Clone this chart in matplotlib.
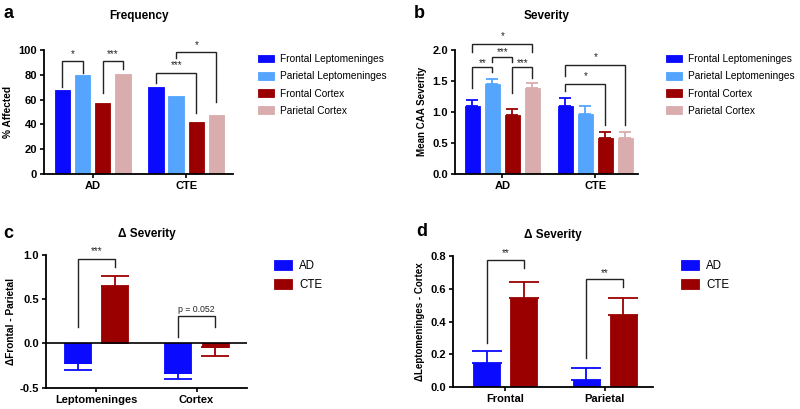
import numpy as np
import matplotlib
matplotlib.use('Agg')
import matplotlib.pyplot as plt

plt.rcParams['font.family'] = ['Liberation Sans', 'DejaVu Sans']

# colours used in all panels
c_blue = '#0a0aff'
c_lblue = '#55a5ff'
c_red = '#9b0000'
c_pink = '#d9adad'

# ---- data ----
groups_ab = ['AD', 'CTE']
regions = ['Frontal Leptomeninges', 'Parietal Leptomeninges', 'Frontal Cortex', 'Parietal Cortex']

# a: % affected, rows = region, cols = AD, CTE
freq_fl = [67.5, 70.0]
freq_pl = [80.0, 62.6]
freq_fc = [57.5, 41.7]
freq_pc = [80.4, 47.6]

# b: mean CAA severity and SEM
sev_fl = [1.10, 1.10]
sev_pl = [1.45, 0.96]
sev_fc = [0.95, 0.575]
sev_pc = [1.39, 0.575]
sem_fl = [0.085, 0.12]
sem_pl = [0.085, 0.13]
sem_fc = [0.09, 0.10]
sem_pc = [0.07, 0.10]

# c: delta frontal - parietal
groups_c = ['Leptomeninges', 'Cortex']
dfp_ad = [-0.22, -0.33]
dfp_cte = [0.645, -0.035]
dfp_ad_sem = [0.085, 0.07]
dfp_cte_sem = [0.115, 0.105]

# d: delta leptomeninges - cortex
groups_d = ['Frontal', 'Parietal']
dlc_ad = [0.145, 0.043]
dlc_cte = [0.545, 0.438]
dlc_ad_sem = [0.073, 0.073]
dlc_cte_sem = [0.096, 0.105]

fig = plt.figure(figsize=(8, 4.09), dpi=100)


def px(l, t, r, b):
    return [l / 800, 1 - b / 409, (r - l) / 800, (b - t) / 409]


def style(ax):
    for s in ['top', 'right']:
        ax.spines[s].set_visible(False)
    for s in ['left', 'bottom']:
        ax.spines[s].set_linewidth(1.3)
    ax.tick_params(axis='both', labelsize=8, width=1.2, length=3, pad=2)
    for lab in ax.get_xticklabels() + ax.get_yticklabels():
        lab.set_fontweight('bold')


def bracket(ax, x1, x2, top, y1, y2, label, fs=7, dy=0.0):
    ax.plot([x1, x1, x2, x2], [y1, top, top, y2], color='#222222', lw=1.0,
            clip_on=False, solid_joinstyle='miter')
    ax.text((x1 + x2) / 2, top + dy, label, ha='center', va='bottom',
            fontsize=fs, color='#222222', clip_on=False)


four_cols = [c_blue, c_lblue, c_red, c_pink]
pitch4 = 0.215
w4 = 0.165
off4 = (np.arange(4) - 1.5) * pitch4
xg = np.arange(2)

# ---------------- a ----------------
axa = fig.add_axes(px(44, 50, 233, 174))
for k, vals in enumerate([freq_fl, freq_pl, freq_fc, freq_pc]):
    axa.bar(xg + off4[k], vals, w4, color=four_cols[k], edgecolor=four_cols[k],
            linewidth=0.6, label=regions[k])
axa.set_xlim(-0.52, 1.50)
axa.set_ylim(0, 100)
axa.set_yticks([0, 20, 40, 60, 80, 100])
axa.set_xticks(xg)
axa.set_xticklabels(groups_ab)
axa.set_ylabel('% Affected', fontsize=7.3, fontweight='bold', labelpad=4)
axa.set_title('Frequency', fontsize=8.5, fontweight='bold', pad=22)
style(axa)
bracket(axa, off4[0], off4[1], 91, 70, 81.7, '*', dy=2)
bracket(axa, off4[2], off4[3], 91, 65, 85, '***', dy=2)
bracket(axa, 1 + off4[0], 1 + off4[2], 81.7, 73.6, 49, '***', dy=2)
bracket(axa, 1 + off4[1], 1 + off4[3], 98, 93.5, 57.8, '*', dy=2)
axa.legend(loc='upper left', bbox_to_anchor=(258 / 800, 1 - 54 / 409),
           bbox_transform=fig.transFigure, frameon=False, fontsize=7.3,
           handlelength=1.6, handleheight=0.82, handletextpad=0.6,
           labelspacing=0.72, borderpad=0, borderaxespad=0)

# ---------------- b ----------------
axb = fig.add_axes(px(455, 50, 638, 173.7))
for k, (vals, err) in enumerate(zip([sev_fl, sev_pl, sev_fc, sev_pc],
                                    [sem_fl, sem_pl, sem_fc, sem_pc])):
    axb.bar(xg + off4[k], vals, w4, color=four_cols[k], edgecolor=four_cols[k],
            linewidth=0.6, label=regions[k])
    axb.errorbar(xg + off4[k], vals, yerr=[np.zeros(2), err], fmt='none',
                 ecolor=four_cols[k], elinewidth=1.3, capsize=4.5, capthick=1.3)
axb.set_xlim(-0.51, 1.46)
axb.set_ylim(0, 2.0)
axb.set_yticks([0, 0.5, 1.0, 1.5, 2.0])
axb.set_yticklabels(['0.0', '0.5', '1.0', '1.5', '2.0'])
axb.set_xticks(xg)
axb.set_xticklabels(groups_ab)
axb.set_ylabel('Mean CAA Severity', fontsize=7, fontweight='bold', labelpad=4)
axb.set_title('Severity', fontsize=8.5, fontweight='bold', pad=22)
style(axb)
bracket(axb, off4[0], off4[3], 2.10, 1.96, 1.96, '*', dy=0.05)
bracket(axb, off4[0], off4[1], 1.73, 1.39, 1.65, '**', dy=-0.02)
bracket(axb, off4[1], off4[2], 1.89, 1.81, 1.81, '***', dy=0.0)
bracket(axb, off4[2], off4[3], 1.73, 1.31, 1.54, '***', dy=-0.02)
bracket(axb, 1 + off4[0], 1 + off4[3], 1.75, 1.585, 0.79, '*', dy=0.05)
bracket(axb, 1 + off4[0], 1 + off4[2], 1.45, 1.34, 0.79, '*', dy=0.05)
axb.legend(loc='upper left', bbox_to_anchor=(666 / 800, 1 - 54 / 409),
           bbox_transform=fig.transFigure, frameon=False, fontsize=7.3,
           handlelength=1.6, handleheight=0.82, handletextpad=0.6,
           labelspacing=0.72, borderpad=0, borderaxespad=0)

pitch2 = 0.372
w2 = 0.27
off2 = np.array([-0.5, 0.5]) * pitch2

# ---------------- c ----------------
axc = fig.add_axes(px(46, 255, 246.7, 387.7))
axc.bar(xg + off2[0], dfp_ad, w2, color=c_blue, edgecolor=c_blue, linewidth=0.6, label='AD')
axc.bar(xg + off2[1], dfp_cte, w2, color=c_red, edgecolor=c_red, linewidth=0.6, label='CTE')
for vals, err, col, xo in [(dfp_ad, dfp_ad_sem, c_blue, off2[0]),
                           (dfp_cte, dfp_cte_sem, c_red, off2[1])]:
    vals = np.array(vals)
    err = np.array(err)
    lo = np.where(vals < 0, err, 0)
    hi = np.where(vals >= 0, err, 0)
    axc.errorbar(xg + xo, vals, yerr=[lo, hi], fmt='none', ecolor=col,
                 elinewidth=1.3, capsize=10, capthick=1.3)
axc.axhline(0, color='black', lw=1.2)
axc.set_xlim(-0.5, 1.5)
axc.set_ylim(-0.5, 1.0)
axc.set_yticks([-0.5, 0.0, 0.5, 1.0])
axc.set_yticklabels(['-0.5', '0.0', '0.5', '1.0'])
axc.set_xticks(xg)
axc.set_xticklabels(groups_c)
axc.set_ylabel('ΔFrontal - Parietal', fontsize=7.3, fontweight='bold', labelpad=3)
axc.set_title('Δ Severity', fontsize=8.5, fontweight='bold', pad=13)
style(axc)
bracket(axc, off2[0], off2[1], 0.955, 0.185, 0.86, '***', dy=0.03)
bracket(axc, 1 + off2[0], 1 + off2[1], 0.305, 0.068, 0.185, 'p = 0.052', fs=6.3, dy=0.03)
axc.legend(loc='upper left', bbox_to_anchor=(274 / 800, 1 - 260 / 409),
           bbox_transform=fig.transFigure, frameon=False, fontsize=8.3,
           handlelength=1.6, handleheight=0.9, handletextpad=0.6,
           labelspacing=0.6, borderpad=0, borderaxespad=0)

# ---------------- d ----------------
axd = fig.add_axes(px(453, 256, 653.3, 387))
axd.bar(xg + off2[0], dlc_ad, w2, color=c_blue, edgecolor=c_blue, linewidth=0.6, label='AD')
axd.bar(xg + off2[1], dlc_cte, w2, color=c_red, edgecolor=c_red, linewidth=0.6, label='CTE')
axd.errorbar(xg + off2[0], dlc_ad, yerr=[np.zeros(2), dlc_ad_sem], fmt='none',
             ecolor=c_blue, elinewidth=1.3, capsize=11, capthick=1.3)
axd.errorbar(xg + off2[1], dlc_cte, yerr=[np.zeros(2), dlc_cte_sem], fmt='none',
             ecolor=c_red, elinewidth=1.3, capsize=11, capthick=1.3)
axd.set_xlim(-0.527, 1.49)
axd.set_ylim(0, 0.8)
axd.set_yticks([0, 0.2, 0.4, 0.6, 0.8])
axd.set_yticklabels(['0.0', '0.2', '0.4', '0.6', '0.8'])
axd.set_xticks(xg)
axd.set_xticklabels(groups_d)
axd.set_ylabel('ΔLeptomeninges - Cortex', fontsize=7, fontweight='bold', labelpad=4)
axd.set_title('Δ Severity', fontsize=8.5, fontweight='bold', pad=13)
style(axd)
bracket(axd, off2[0], off2[1], 0.776, 0.267, 0.725, '**', dy=0.01)
bracket(axd, 1 + off2[0], 1 + off2[1], 0.658, 0.175, 0.612, '**', dy=0.01)
axd.legend(loc='upper left', bbox_to_anchor=(681 / 800, 1 - 260 / 409),
           bbox_transform=fig.transFigure, frameon=False, fontsize=8.3,
           handlelength=1.6, handleheight=0.9, handletextpad=0.6,
           labelspacing=0.6, borderpad=0, borderaxespad=0)

# panel letters
for lab, x, y in [('a', 3, 14), ('b', 414, 14), ('c', 3, 233), ('d', 416, 232)]:
    fig.text(x / 800, 1 - y / 409, lab, fontsize=13, fontweight='bold',
             ha='left', va='center')

fig.savefig('out.png', dpi=100)
